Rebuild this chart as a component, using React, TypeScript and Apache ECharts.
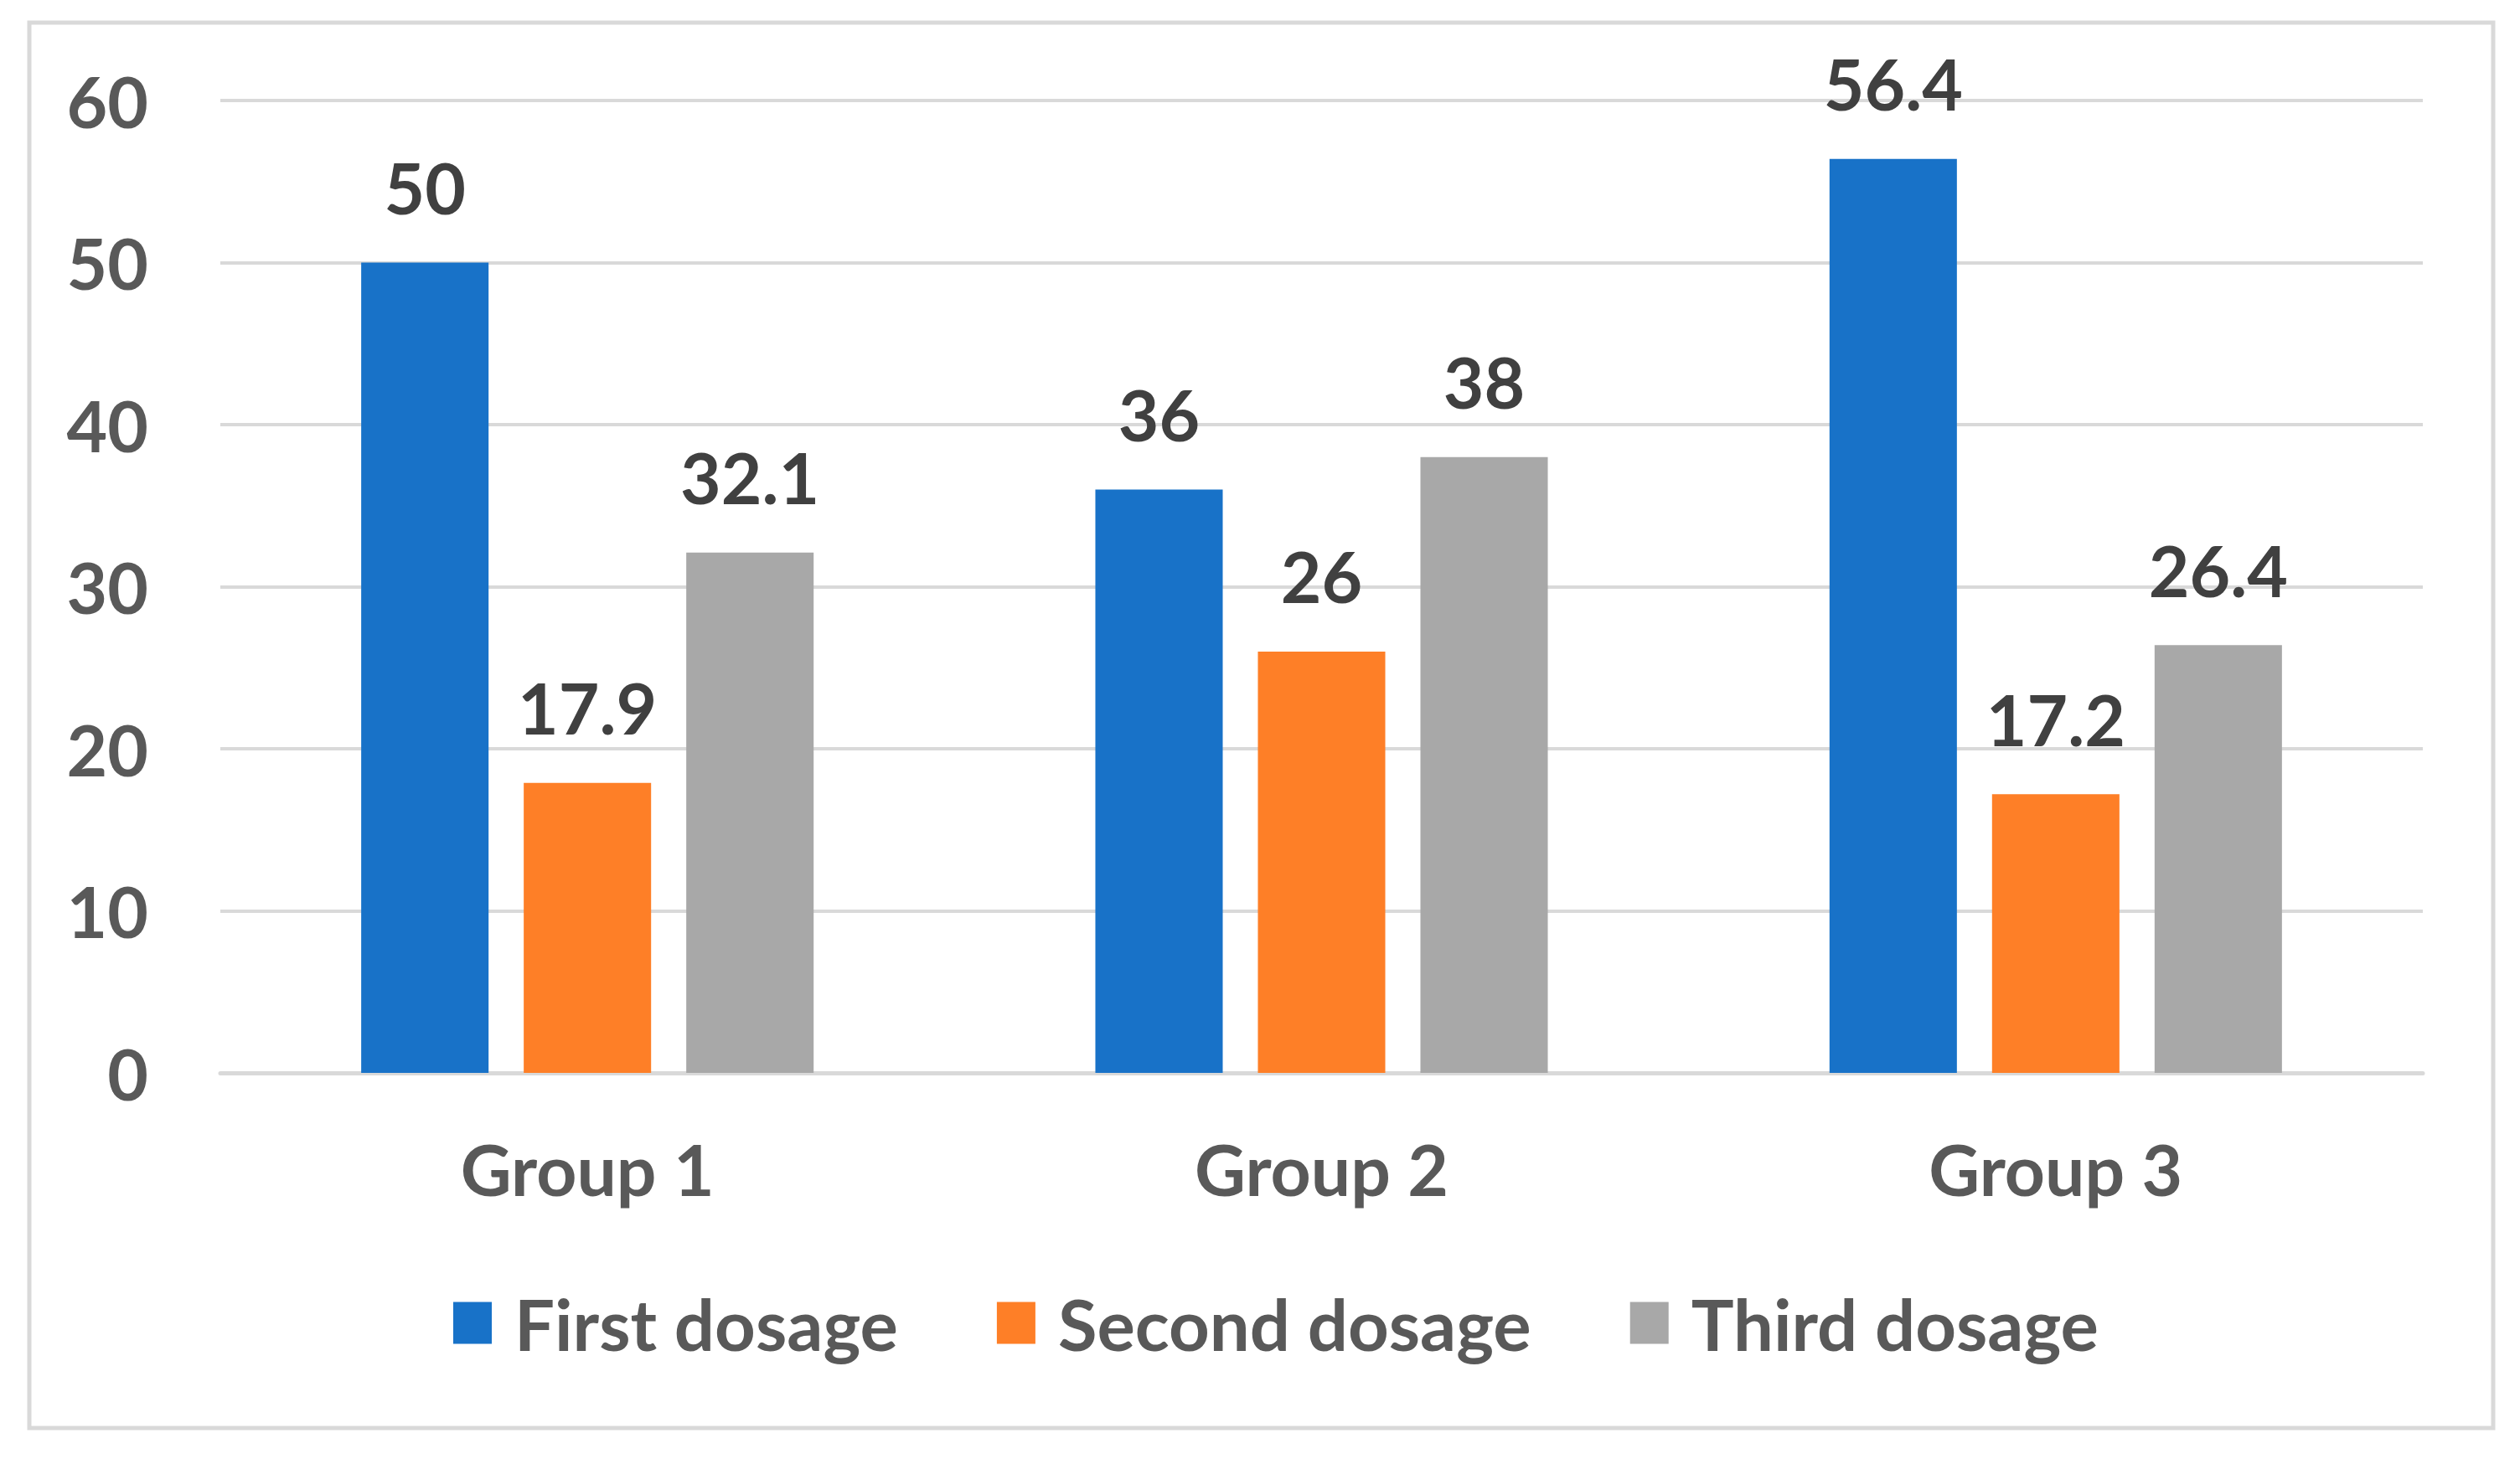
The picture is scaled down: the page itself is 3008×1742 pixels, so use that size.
import React, { useEffect, useRef } from "react";
import * as echarts from "echarts";

const categories = ["Group 1", "Group 2", "Group 3"];
const seriesNames = ["First dosage", "Second dosage", "Third dosage"];
const firstDosage = [50, 36, 56.4];
const secondDosage = [17.9, 26, 17.2];
const thirdDosage = [32.1, 38, 26.4];
const colors = ["#1872C8", "#FE7F27", "#A8A8A8"];
const yTicks = { min: 0, max: 60, interval: 10 };

const FONT = "Lato, 'Open Sans', sans-serif";

export default function App() {
  const ref = useRef<HTMLDivElement>(null);
  useEffect(() => {
    if (!ref.current) return;
    const chart = echarts.init(ref.current, null, { renderer: "svg" });
    const values = [firstDosage, secondDosage, thirdDosage];
    chart.setOption({
      animation: false,
      backgroundColor: "#ffffff",
      textStyle: { fontFamily: FONT },
      grid: { left: 263, right: 116, top: 120, bottom: 461, containLabel: false },
      graphic: [
        {
          type: "rect",
          shape: { x: 35, y: 27, width: 2941, height: 1678 },
          style: { fill: "none", stroke: "#D9D9D9", lineWidth: 5 },
          silent: true,
        },
      ],
      legend: {
        left: 536,
        top: 1532,
        itemWidth: 46,
        itemHeight: 50,
        itemGap: 118,
        icon: "rect",
        data: seriesNames,
        textStyle: {
          fontFamily: FONT,
          fontWeight: "bold",
          fontSize: 85,
          color: "#595959",
          padding: [0, 0, 0, 22],
        },
      },
      xAxis: {
        type: "category",
        data: categories,
        axisTick: { show: false },
        axisLine: { lineStyle: { color: "#D9D9D9", width: 5 } },
        axisLabel: {
          fontFamily: FONT,
          fontWeight: "bold",
          fontSize: 84,
          color: "#595959",
          margin: 72,
        },
      },
      yAxis: {
        type: "value",
        min: yTicks.min,
        max: yTicks.max,
        interval: yTicks.interval,
        axisLine: { show: false },
        axisTick: { show: false },
        splitLine: { lineStyle: { color: "#D9D9D9", width: 4 } },
        axisLabel: {
          fontFamily: FONT,
          fontWeight: "bold",
          fontSize: 84,
          color: "#595959",
          margin: 86,
        },
      },
      series: seriesNames.map((name, i) => ({
        name,
        type: "bar",
        data: values[i],
        barWidth: "17.35%",
        barGap: "27.6%",
        itemStyle: { color: colors[i] },
        label: {
          show: true,
          position: "top",
          distance: 48,
          fontFamily: FONT,
          fontWeight: "bold",
          fontSize: 84,
          color: "#404040",
        },
      })),
    });
    return () => chart.dispose();
  }, []);
  return (
    <div
      ref={ref}
      style={{ position: "absolute", left: 0, top: 0, width: 3008, height: 1742 }}
    />
  );
}
